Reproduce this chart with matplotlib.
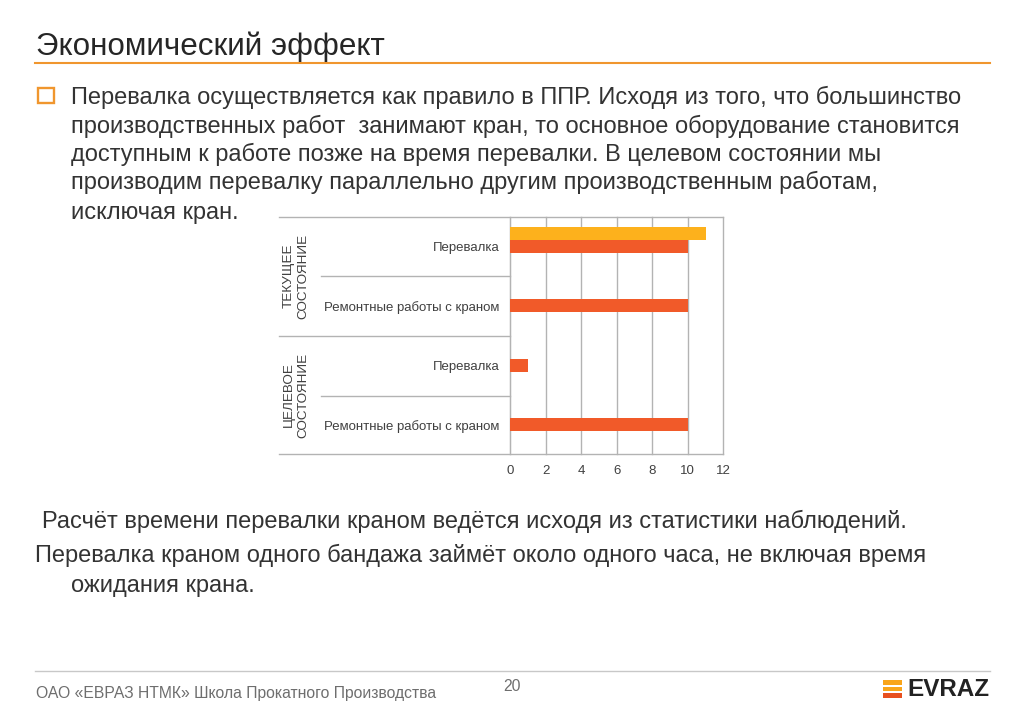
import matplotlib
matplotlib.use("Agg")
import matplotlib.pyplot as plt
from matplotlib.patches import Rectangle

plt.rcParams['font.family'] = ['Liberation Sans', 'DejaVu Sans']

title = "Экономический эффект"
body_lines = [
    (104, "Перевалка осуществляется как правило в ППР. Исходя из того, что большинство"),
    (132.5, "производственных работ  занимают кран, то основное оборудование становится"),
    (160.7, "доступным к работе позже на время перевалки. В целевом состоянии мы"),
    (188.5, "производим перевалку параллельно другим производственным работам,"),
    (219, "исключая кран."),
]
below_lines = [
    (42, 528, "Расчёт времени перевалки краном ведётся исходя из статистики наблюдений."),
    (35, 562, "Перевалка краном одного бандажа займёт около одного часа, не включая время"),
    (71, 592, "ожидания крана."),
]
footer = "ОАО «ЕВРАЗ НТМК» Школа Прокатного Производства"
page = "20"

categories = ["Перевалка", "Ремонтные работы с краном", "Перевалка", "Ремонтные работы с краном"]
groups = ["ТЕКУЩЕЕ\nСОСТОЯНИЕ", "ЦЕЛЕВОЕ\nСОСТОЯНИЕ"]
red_values = [10, 10, 1, 10]
yellow_values = [11, 0, 0, 0]
x_ticks = [0, 2, 4, 6, 8, 10, 12]

W, H = 1024, 709
fig = plt.figure(figsize=(W / 100, H / 100), dpi=100)

# full figure overlay in pixel coords for slide furniture
bg = fig.add_axes([0, 0, 1, 1])
bg.set_xlim(0, W)
bg.set_ylim(H, 0)
bg.axis("off")

bg.text(36, 55, title, fontsize=22.6, color="#262626", va="baseline", ha="left")
bg.plot([35, 990], [62.5, 62.5], color="#F0962E", lw=1.5)
bg.add_patch(Rectangle((38, 88), 15.5, 14.5, fill=False, ec="#F0962E", lw=1.7))

for y, line in body_lines:
    bg.text(71, y, line, fontsize=17.05, color="#333333", va="baseline", ha="left")

for x0, y0, line in below_lines:
    bg.text(x0, y0, line, fontsize=17.05, color="#333333", va="baseline", ha="left")

bg.plot([35, 990], [670.5, 670.5], color="#C8C8C8", lw=1)
bg.text(36, 698, footer, fontsize=11.3, color="#6E6E6E", va="baseline", ha="left")
bg.text(512, 691, page, fontsize=11.3, color="#6E6E6E", va="baseline", ha="center")

# logo
bg.add_patch(Rectangle((883, 680), 19, 4.5, color="#F9A51A", lw=0))
bg.add_patch(Rectangle((883, 686.5), 19, 4.5, color="#F9A51A", lw=0))
bg.add_patch(Rectangle((883, 693), 19, 4.5, color="#E8501F", lw=0))
bg.text(907, 696, "EVRAZ", fontsize=17.5, fontweight="bold", color="#222222", va="baseline", ha="left")

# chart
left, right = 510, 723.3
top, bottom = 216.7, 454.3
ax = fig.add_axes([left / W, 1 - bottom / H, (right - left) / W, (bottom - top) / H])
ax.patch.set_alpha(0)
ax.set_xlim(0, 12)
ax.set_ylim(3.5, -0.5)

bar_h = 0.22
pos = list(range(len(categories)))
ax.barh(pos, red_values, height=bar_h, color="#F15A29", zorder=3)
ax.barh([p - bar_h for p in pos], yellow_values, height=bar_h, color="#FDB11C", zorder=3)

ax.set_xticks(x_ticks)
ax.grid(axis="x", color="#B3B3B3", lw=1, zorder=0)
ax.set_axisbelow(True)
for gl in ax.get_xgridlines():
    gl.set_clip_on(False)
ax.tick_params(axis="x", length=0, labelsize=9.5, labelcolor="#404040", pad=14.4)
for lab in ax.get_xticklabels():
    lab.set_verticalalignment("baseline")
ax.set_yticks(pos)
ax.set_yticklabels(categories, fontsize=9.5, color="#404040")
ax.tick_params(axis="y", length=0, pad=7.5)
for s in ["top", "right", "bottom"]:
    ax.spines[s].set_visible(False)
ax.spines["left"].set_color("#B3B3B3")

# category separators and group labels reach out left of the axes
line_col = "#B3B3B3"
bg.plot([279, right], [top, top], color=line_col, lw=1)
bg.plot([279, right], [bottom, bottom], color=line_col, lw=1)
bg.plot([279, left], [335.5, 335.5], color=line_col, lw=1)
bg.plot([321, left], [276, 276], color=line_col, lw=1)
bg.plot([321, left], [395.5, 395.5], color=line_col, lw=1)
bg.text(296, 276, groups[0], rotation=90, fontsize=9.7, color="#404040", va="center", ha="center",
        multialignment="center", linespacing=1.2)
bg.text(296, 395, groups[1], rotation=90, fontsize=9.7, color="#404040", va="center", ha="center",
        multialignment="center", linespacing=1.2)

fig.savefig("out.png", dpi=100)
